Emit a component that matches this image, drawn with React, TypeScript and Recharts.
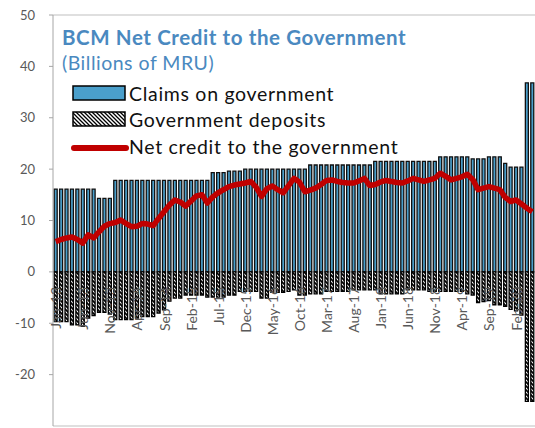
import React from 'react';
import { ComposedChart, Bar, Line, XAxis, YAxis, ReferenceLine } from 'recharts';

const months: string[] = [
  'Jan-13','Feb-13','Mar-13','Apr-13','May-13','Jun-13','Jul-13','Aug-13','Sep-13','Oct-13','Nov-13','Dec-13',
  'Jan-14','Feb-14','Mar-14','Apr-14','May-14','Jun-14','Jul-14','Aug-14','Sep-14','Oct-14','Nov-14','Dec-14',
  'Jan-15','Feb-15','Mar-15','Apr-15','May-15','Jun-15','Jul-15','Aug-15','Sep-15','Oct-15','Nov-15','Dec-15',
  'Jan-16','Feb-16','Mar-16','Apr-16','May-16','Jun-16','Jul-16','Aug-16','Sep-16','Oct-16','Nov-16','Dec-16',
  'Jan-17','Feb-17','Mar-17','Apr-17','May-17','Jun-17','Jul-17','Aug-17','Sep-17','Oct-17','Nov-17','Dec-17',
  'Jan-18','Feb-18','Mar-18','Apr-18','May-18','Jun-18','Jul-18','Aug-18','Sep-18','Oct-18','Nov-18','Dec-18',
  'Jan-19','Feb-19','Mar-19','Apr-19','May-19','Jun-19','Jul-19','Aug-19','Sep-19','Oct-19','Nov-19','Dec-19',
  'Jan-20','Feb-20','Mar-20','Apr-20','May-20',
];

const claims: number[] = [
  16.1,16.1,16.1,16.1,16.1,16.1,16.1,16.1,14.3,14.3,14.3,17.8,
  17.8,17.8,17.8,17.8,17.8,17.8,17.8,17.8,17.8,17.8,17.8,17.8,
  17.8,17.8,17.8,17.8,17.8,19.3,19.3,19.3,19.6,19.6,19.6,20.0,
  20.0,20.0,20.0,20.0,20.0,20.0,20.0,20.0,20.0,20.0,20.0,20.8,
  20.8,20.8,20.8,20.8,20.8,20.8,20.8,20.8,20.8,20.8,20.8,21.5,
  21.5,21.5,21.5,21.5,21.5,21.5,21.5,21.5,21.5,21.5,21.5,22.4,
  22.4,22.4,22.4,22.4,22.4,22.0,22.0,22.0,22.4,22.4,22.4,21.1,
  20.4,20.4,20.4,36.8,36.8,
];

const deposits: number[] = [
  -9.7,-9.7,-9.7,-10.3,-10.3,-10.6,-9.0,-8.5,-7.9,-7.9,-8.2,-9.3,
  -9.3,-9.3,-9.3,-9.0,-8.7,-8.7,-8.7,-8.0,-7.4,-5.7,-5.1,-5.1,
  -4.5,-4.5,-4.5,-4.5,-4.9,-4.9,-4.9,-4.9,-4.5,-4.5,-3.8,-3.8,
  -3.8,-3.8,-5.1,-5.1,-4.0,-4.0,-4.0,-3.8,-3.5,-4.5,-4.5,-4.3,
  -4.3,-4.3,-3.8,-3.8,-3.8,-3.8,-3.8,-3.5,-3.5,-3.5,-3.5,-3.5,
  -4.3,-4.3,-4.3,-4.3,-4.3,-3.5,-3.5,-3.5,-3.5,-3.8,-3.8,-3.8,
  -3.8,-3.8,-3.8,-3.8,-4.3,-4.5,-6.0,-5.8,-5.6,-6.4,-6.4,-6.7,
  -7.3,-7.6,-8.4,-25.2,-25.2,
];

const netCredit: number[] = [
  5.9,6.3,6.6,6.8,6.3,5.6,7.2,6.6,7.8,8.9,9.4,9.6,
  10.1,9.4,8.8,8.9,9.4,9.3,9.0,10.4,11.7,13.0,14.0,13.6,
  12.8,13.8,14.8,15.0,13.4,14.6,15.4,16.0,16.6,16.9,17.1,17.3,
  17.6,16.5,14.7,16.2,16.7,16.0,15.4,16.8,18.2,17.5,15.6,15.9,
  16.3,17.0,17.8,17.9,17.6,17.4,17.3,17.3,17.7,18.2,16.8,17.0,
  17.5,17.8,17.6,17.4,17.3,17.7,18.2,17.9,17.6,17.9,18.2,19.2,
  18.6,17.9,18.2,18.5,19.0,18.0,16.0,16.3,16.6,16.3,16.0,14.5,
  13.7,14.0,13.2,12.4,11.7,
];

const yTicks: number[] = [-30, -20, -10, 0, 10, 20, 30, 40, 50];

const title = 'BCM Net Credit to the Government';
const subtitle = '(Billions of MRU)';
const legendLabels = ['Claims on government', 'Government deposits', 'Net credit to the government'];

const data = months.map((m, i) => ({
  label: m,
  claims: claims[i],
  deposits: deposits[i],
  net: netCredit[i],
}));

const W = 535;
const H = 428;
const MT = 15;
const MB = 1;
const XAXIS_H = 1;
const Y_MIN = -30;
const Y_MAX = 50;
const PLOT_H = H - MT - MB - XAXIS_H;
const ZERO_Y = MT + (PLOT_H * Y_MAX) / (Y_MAX - Y_MIN);

const BLUE = '#4A9FCB';
const TITLE_BLUE = '#4A89C0';
const RED = '#C00000';
const GREY = '#595959';
const FONT = 'Lato, "Open Sans", sans-serif';

const XTick = (props: any) => {
  const { x, payload } = props;
  const ay = ZERO_Y + 15;
  return (
    <text
      x={x}
      y={ay}
      transform={`rotate(-90 ${x} ${ay})`}
      textAnchor="end"
      dominantBaseline="central"
      fontSize={14}
      fill={GREY}
      fontFamily={FONT}
    >
      {payload.value}
    </text>
  );
};

const hatchPath = 'M-1,-1 L5,5 M-1,3 L1,5 M3,-1 L5,1';

export default function App() {
  return (
    <div
      style={{
        position: 'fixed',
        left: 0,
        top: 0,
        width: W,
        height: H,
        overflow: 'hidden',
        background: '#fff',
        fontFamily: FONT,
      }}
    >
      <ComposedChart
        width={W}
        height={H}
        data={data}
        stackOffset="sign"
        barCategoryGap="22%"
        margin={{ top: MT, right: 0, bottom: MB, left: 8 }}
      >
        <defs>
          <pattern id="hatch" patternUnits="userSpaceOnUse" width="4" height="4">
            <rect width="4" height="4" fill="#fff" />
            <path d={hatchPath} stroke="#000" strokeWidth="1.7" />
          </pattern>
        </defs>
        <XAxis
          dataKey="label"
          interval={4}
          height={XAXIS_H}
          tickLine={false}
          axisLine={{ stroke: '#BFBFBF' }}
          tick={<XTick />}
        />
        <YAxis
          domain={[Y_MIN, Y_MAX]}
          ticks={yTicks}
          width={45}
          tickSize={4}
          tickMargin={14}
          axisLine={{ stroke: '#A6A6A6' }}
          tickLine={{ stroke: '#A6A6A6' }}
          tick={{ fill: GREY, fontSize: 13, fontFamily: FONT }}
          allowDataOverflow
        />
        <ReferenceLine y={Y_MAX} stroke="#BFBFBF" />
        <Bar dataKey="claims" stackId="s" fill={BLUE} stroke="#111" strokeWidth={1.3} isAnimationActive={false} />
        <Bar dataKey="deposits" stackId="s" fill="url(#hatch)" stroke="#000" strokeWidth={1.3} isAnimationActive={false} />
        <Line
          dataKey="net"
          type="linear"
          stroke={RED}
          strokeWidth={5.5}
          dot={false}
          strokeLinejoin="round"
          isAnimationActive={false}
        />
      </ComposedChart>
      <svg
        width={W}
        height={H}
        style={{ position: 'absolute', left: 0, top: 0, pointerEvents: 'none' }}
      >
        <defs>
          <pattern id="hatchLegend" patternUnits="userSpaceOnUse" width="4" height="4">
            <rect width="4" height="4" fill="#fff" />
            <path d={hatchPath} stroke="#000" strokeWidth="1.3" />
          </pattern>
        </defs>
        <text x={62} y={45} fill={TITLE_BLUE} fontSize={20.5} letterSpacing={0.6} fontWeight={700} fontFamily={FONT}>
          {title}
        </text>
        <text x={62} y={70} fill={TITLE_BLUE} fontSize={19.5} letterSpacing={0.5} fontFamily={FONT}>
          {subtitle}
        </text>
        <rect x={73} y={86} width={52} height={14} fill={BLUE} stroke="#000" strokeWidth={1.5} />
        <rect x={73} y={112} width={52} height={14} fill="url(#hatchLegend)" stroke="#000" strokeWidth={1.5} />
        <line x1={74} y1={148} x2={126} y2={148} stroke={RED} strokeWidth={6} strokeLinecap="round" />
        <text x={129} y={100.5} fill="#111" fontSize={19.5} letterSpacing={0.7} fontFamily={FONT}>{legendLabels[0]}</text>
        <text x={129} y={126.5} fill="#111" fontSize={19.5} letterSpacing={0.7} fontFamily={FONT}>{legendLabels[1]}</text>
        <text x={129} y={154} fill="#111" fontSize={19.5} letterSpacing={0.7} fontFamily={FONT}>{legendLabels[2]}</text>
      </svg>
    </div>
  );
}
